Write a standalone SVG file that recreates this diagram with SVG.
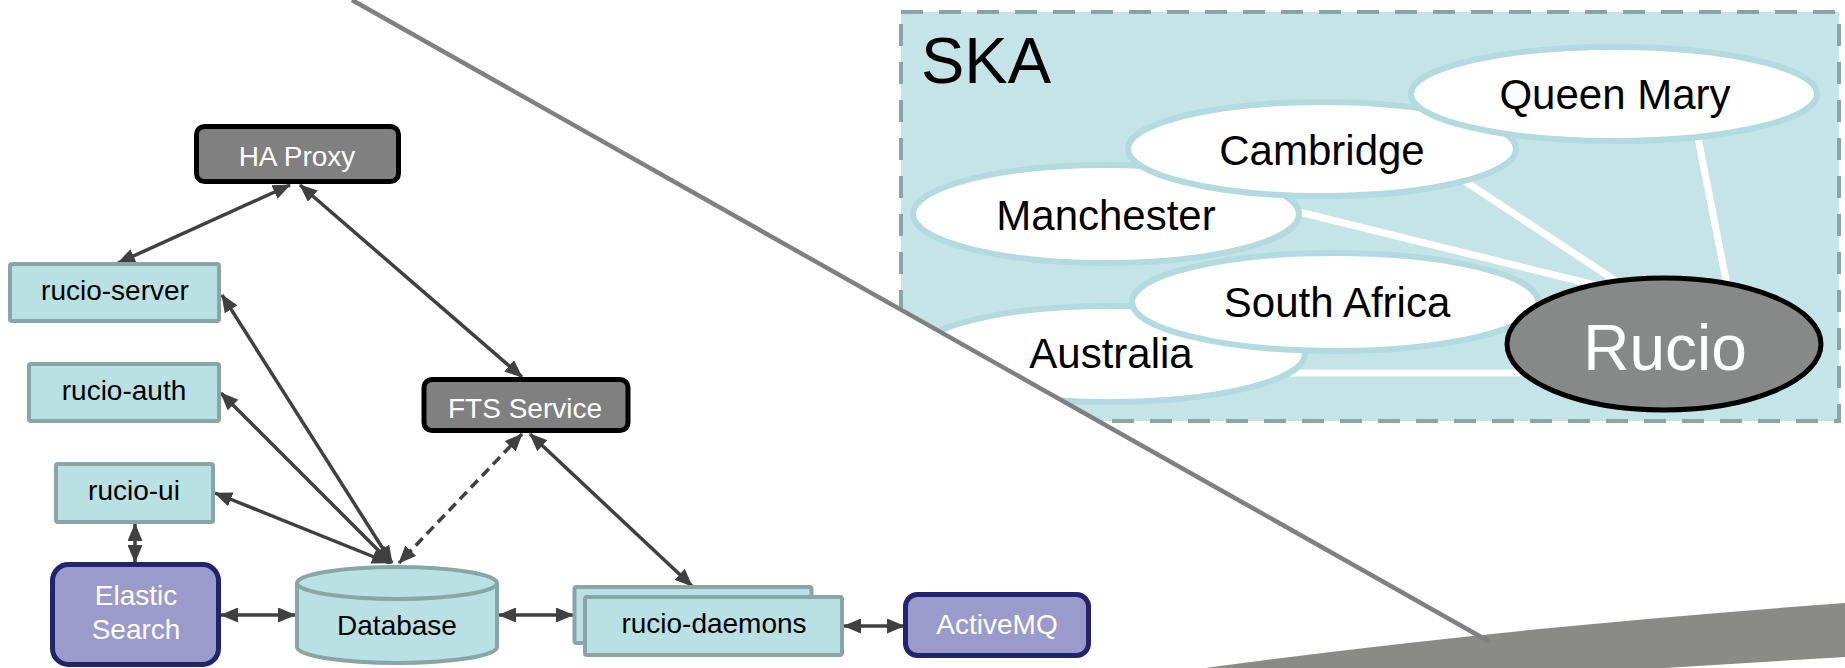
<svg xmlns="http://www.w3.org/2000/svg" width="1845" height="668" viewBox="0 0 1845 668">
<style>
text{font-family:"Liberation Sans",Arial,sans-serif}
.lbl{font-size:28px;text-anchor:middle;fill:#000}
.wlbl{font-size:28px;text-anchor:middle;fill:#fff}
.teal{fill:#b9e0e3;stroke:#89a6a7;stroke-width:4}
.gray{fill:#808080;stroke:#000;stroke-width:5}
.purple{fill:#9a9acb;stroke:#23236e;stroke-width:5}
.site{fill:#fff;stroke:#b3dade;stroke-width:6}
.sitetxt{font-size:42px;text-anchor:middle;fill:#000}
.wl{stroke:#fff;stroke-width:7;fill:none}
.arr{stroke:#404040;stroke-width:3.5;fill:none;marker-start:url(#ah);marker-end:url(#ah)}
</style>
<defs>
<marker id="ah" viewBox="0 0 18 15" markerUnits="userSpaceOnUse" markerWidth="18" markerHeight="15" refX="17" refY="7.5" orient="auto-start-reverse">
<path d="M0,0 L18,7.5 L0,15 Z" fill="#404040"/>
</marker>
</defs>
<rect width="1845" height="668" fill="#fff"/>

<g id="ska">
<rect x="901" y="12" width="938" height="409" fill="#c4e4e7" stroke="#89a6a7" stroke-width="4" stroke-dasharray="22 16"/>
<text x="921" y="83" font-size="65" fill="#000">SKA</text>
<g id="ska-connectors">
<line class="wl" x1="1698" y1="138" x2="1727" y2="285"/>
<line class="wl" x1="1463" y1="180" x2="1622" y2="285"/>
<line class="wl" x1="1295" y1="211" x2="1595" y2="285"/>
<line class="wl" x1="1285" y1="373" x2="1520" y2="373"/>
</g>
<g id="manchester"><ellipse class="site" cx="1106" cy="214" rx="193" ry="49"/><text class="sitetxt" x="1106" y="230">Manchester</text></g>
<g id="cambridge"><ellipse class="site" cx="1322" cy="149" rx="194" ry="47"/><text class="sitetxt" x="1322" y="165">Cambridge</text></g>
<g id="queen-mary"><ellipse class="site" cx="1614" cy="94" rx="203" ry="47"/><text class="sitetxt" x="1615" y="109">Queen Mary</text></g>
<g id="australia"><ellipse class="site" cx="1110" cy="354" rx="195" ry="48"/><text class="sitetxt" x="1111" y="368">Australia</text></g>
<g id="south-africa"><ellipse class="site" cx="1335" cy="302" rx="203" ry="49"/><text class="sitetxt" x="1337" y="317">South Africa</text></g>
<g id="rucio"><ellipse cx="1664" cy="344" rx="157" ry="66" fill="#878888" stroke="#000" stroke-width="5"/><text x="1665" y="370" font-size="64" text-anchor="middle" fill="#fff">Rucio</text></g>
</g>

<polygon points="352,0 1490,642 1490,668 0,668 0,0" fill="#fff"/>
<path d="M1205,668 Q1500,628 1845,603 L1845,657 L1665,668 Z" fill="#8a8a86"/>
<line x1="352" y1="0" x2="1490" y2="642" stroke="#808080" stroke-width="4.5"/>

<g id="connectors">
<line class="arr" x1="290" y1="185" x2="118" y2="263"/>
<line class="arr" x1="300" y1="185" x2="522" y2="377"/>
<line class="arr" x1="222" y1="295" x2="392" y2="563"/>
<line class="arr" x1="221" y1="393" x2="391" y2="563"/>
<line class="arr" x1="215" y1="493" x2="389" y2="563"/>
<line class="arr" x1="522" y1="434" x2="399" y2="563" stroke-dasharray="10 6"/>
<line class="arr" x1="530" y1="434" x2="692" y2="586"/>
<line class="arr" x1="135" y1="524" x2="135" y2="562"/>
<line class="arr" x1="221" y1="615" x2="295" y2="615"/>
<line class="arr" x1="499" y1="615" x2="573" y2="615"/>
<line class="arr" x1="844" y1="626" x2="904" y2="626"/>
</g>

<g id="ha-proxy"><rect class="gray" x="196.5" y="126.5" width="202" height="55" rx="8"/><text class="wlbl" x="297" y="166">HA Proxy</text></g>
<g id="rucio-server"><rect class="teal" x="10" y="264" width="209" height="57" rx="2"/><text class="lbl" x="115" y="300">rucio-server</text></g>
<g id="rucio-auth"><rect class="teal" x="29" y="364" width="190" height="57" rx="2"/><text class="lbl" x="124" y="400">rucio-auth</text></g>
<g id="rucio-ui"><rect class="teal" x="56" y="464" width="157" height="58" rx="2"/><text class="lbl" x="134" y="500">rucio-ui</text></g>
<g id="fts-service"><rect class="gray" x="424" y="379.5" width="204" height="51" rx="8"/><text class="wlbl" x="525" y="418">FTS Service</text></g>
<g id="elastic-search"><rect class="purple" x="52.5" y="564.5" width="166" height="100" rx="16"/><text class="wlbl" x="136" y="605">Elastic</text><text class="wlbl" x="136" y="639">Search</text></g>
<g id="database">
<path class="teal" d="M297,583 L297,647 A100,16 0 0 0 497,647 L497,583"/>
<ellipse class="teal" cx="397" cy="583" rx="100" ry="16"/>
<text class="lbl" x="397" y="635">Database</text>
</g>
<g id="rucio-daemons">
<rect class="teal" x="574.5" y="587" width="237" height="56" rx="2"/>
<rect class="teal" x="585" y="597" width="257" height="58" rx="2"/>
<text class="lbl" x="714" y="633">rucio-daemons</text>
</g>
<g id="activemq"><rect class="purple" x="905.5" y="594.5" width="183" height="61" rx="12"/><text class="wlbl" x="997" y="634">ActiveMQ</text></g>
</svg>
